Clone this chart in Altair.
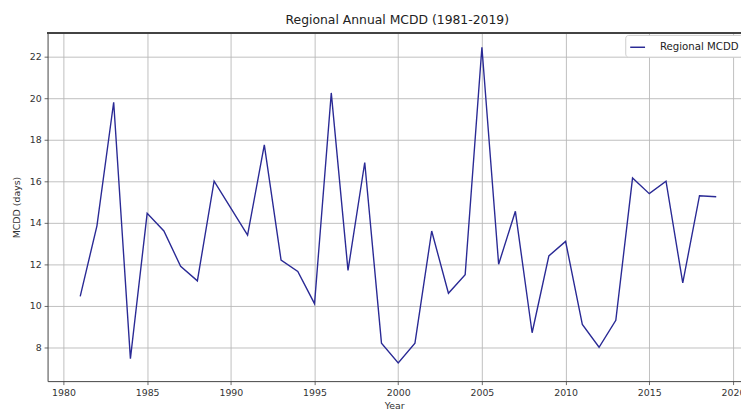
import altair as alt
import pandas as pd

years = list(range(1981, 2020))
mcdd = [10.45, 13.85, 19.8, 7.45, 14.45, 13.6, 11.9, 11.2, 16.0, 14.7,
        13.4, 17.75, 12.2, 11.65, 10.1, 20.25, 11.7, 16.9, 8.2, 7.25,
        8.2, 13.6, 10.6, 11.5, 22.45, 12.0, 14.55, 8.7, 12.4, 13.1,
        9.1, 8.0, 9.3, 16.15, 15.4, 16.0, 11.1, 15.3, 15.25]
series_name = "Regional MCDD"
x_ticks = [1980, 1985, 1990, 1995, 2000, 2005, 2010, 2015, 2020]
y_ticks = [8, 10, 12, 14, 16, 18, 20, 22]

df = pd.DataFrame({"Year": years, "MCDD": mcdd, "Series": [series_name] * len(years)})

W, H = 701, 352
FONT = "DejaVu Sans"

line = alt.Chart(df).mark_line(strokeWidth=1.4, clip=True).encode(
    x=alt.X("Year:Q", title="Year",
            scale=alt.Scale(domain=[1979.05, 2020.48], nice=False, zero=False),
            axis=alt.Axis(values=x_ticks, format="d", grid=True)),
    y=alt.Y("MCDD:Q", title="MCDD (days)",
            scale=alt.Scale(domain=[6.37, 23.14], nice=False, zero=False),
            axis=alt.Axis(values=y_ticks, format="d", grid=True)),
    color=alt.Color("Series:N",
                    scale=alt.Scale(domain=[series_name], range=["#2a2a95"]),
                    legend=alt.Legend(title=None, orient="none", legendX=584, legendY=2,
                                      symbolType="stroke", symbolSize=225,
                                      symbolStrokeWidth=1.5,
                                      fillColor="white", strokeColor="#cccccc",
                                      cornerRadius=3, padding=4,
                                      labelFont=FONT, labelFontSize=10.3,
                                      labelColor="#222222", labelOffset=14)),
)

top_border = alt.Chart(df).mark_rule(color="#444444", strokeWidth=1).encode(
    x=alt.value(0), x2=alt.value(W), y=alt.value(0)
)

chart = alt.layer(line, top_border).properties(
    width=W, height=H,
    title=alt.Title("Regional Annual MCDD (1981-2019)", font=FONT, fontSize=12.5,
                    fontWeight="normal", color="#222222", offset=6, dx=3),
    autosize=alt.AutoSizeParams(type="none"),
    padding={"left": 40, "top": 23, "right": 0, "bottom": 28},
).configure_view(
    stroke=None
).configure_axis(
    labelFont=FONT, labelFontSize=9.5, labelColor="#333333",
    titleFont=FONT, titleFontSize=9.5, titleColor="#333333", titleFontWeight="normal",
    gridColor="#b8b8b8", gridWidth=0.9,
    domainColor="#444444", domainWidth=1,
    tickColor="#444444", tickSize=3.5, tickWidth=0.8,
    labelPadding=3,
).configure_axisY(
    titlePadding=8
).configure_axisX(
    titlePadding=4
)

chart.save("out.html", embed_options={"renderer": "svg", "actions": False})
